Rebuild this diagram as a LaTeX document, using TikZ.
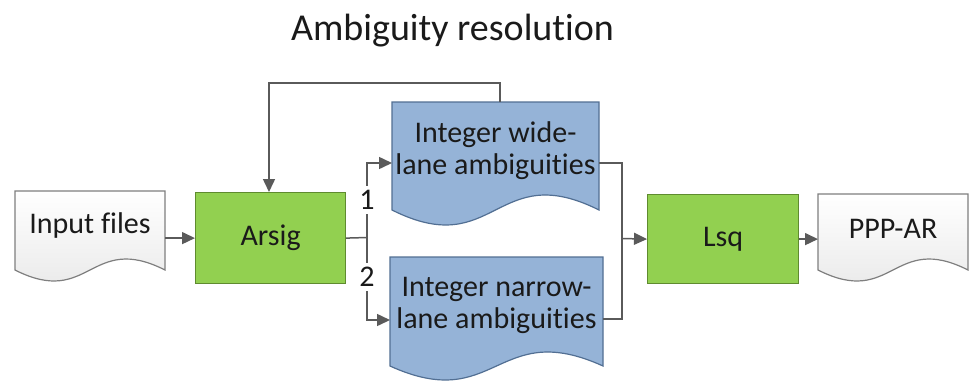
\documentclass[tikz,border=0pt]{standalone}
\usepackage{fontspec}
\setmainfont{Carlito}[Ligatures=NoCommon]
\usetikzlibrary{arrows.meta}
\definecolor{lnc}{HTML}{5A5A5A}
\definecolor{grnf}{HTML}{92D050}
\definecolor{grnd}{HTML}{5F8B2F}
\definecolor{bluf}{HTML}{95B3D7}
\definecolor{blud}{HTML}{526F93}
\definecolor{docd}{HTML}{7F7F7F}
\definecolor{txtc}{HTML}{1A1A1A}
\newcommand{\docpath}[6]{%
  \path[#6] (#1,#2) -- (#3,#2) -- (#3,#4)
    .. controls ({(#1+#3)/2},{#4-3.46*#5}) and ({(#1+#3)/2},{#4+3.46*#5}) .. (#1,#4) -- cycle;}
\begin{document}
\begin{tikzpicture}[x=1pt,y=-1pt,
  lbl/.style={font=\fontsize{30}{32}\selectfont, text=txtc},
  proc/.style={draw=grnd, line width=1.2pt, fill=grnf, anchor=north west, inner sep=0, lbl},
  area/.style={inner sep=0, anchor=north west},
  docst/.style={draw=docd, line width=1.2pt, top color=white, bottom color=black!10},
  bluest/.style={draw=blud, line width=1.2pt, fill=bluf},
  conn/.style={draw=lnc, line width=1.5pt},
  arr/.style={conn, -{Triangle[length=13pt,width=12pt]}},
  num/.style={lbl, fill=white, inner sep=4pt},
]
\useasboundingbox (0,0) rectangle (971,381);
\fill[white] (0,0) rectangle (971,381);

% title
\node[font=\fontsize{38}{40}\selectfont, text=txtc, anchor=base] (title) at (452.5,40) {Ambiguity resolution};

% document shapes
\docpath{15}{191}{165}{270}{11}{docst}
\docpath{392}{102}{599}{210}{15}{bluest}
\docpath{390}{257}{603}{366}{14}{bluest}
\docpath{818}{194}{968}{270}{11}{docst}

\node[area, minimum width=150pt, minimum height=79pt] (inp) at (15,191) {};
\node[area, minimum width=207pt, minimum height=108pt] (wide) at (392,102) {};
\node[area, minimum width=213pt, minimum height=109pt] (narrow) at (390,257) {};
\node[area, minimum width=150pt, minimum height=76pt] (ppp) at (818,194) {};

\node[lbl, anchor=base] (inpt) at (90,233) {Input files};
\node[lbl, align=center] (widet) at (495.5,150.5) {Integer wide-\\lane ambiguities};
\node[lbl, align=center] (narrowt) at (496.5,305.5) {Integer narrow-\\lane ambiguities};
\node[lbl, anchor=base] (pppt) at (893,238) {PPP-AR};

% process boxes
\node[proc, minimum width=150pt, minimum height=91pt] (arsig) at (195,192) {Arsig};
\node[proc, minimum width=151pt, minimum height=89pt] (lsq) at (647,194) {Lsq};

% connectors
\draw[arr] (inp.east |- arsig.west) -- (arsig.west);

\coordinate (j1) at (367,237.5);
\coordinate (wlin) at (392,163);
\coordinate (nlin) at (390,320);
\draw[conn] (arsig.east) -- (j1);
\draw[arr] (j1) |- (wlin);
\draw[arr] (j1) |- (nlin);

\coordinate (rc1) at (622,163);
\coordinate (rc2) at (622,319);
\coordinate (j2) at (622,238.5);
\draw[conn] (wide.east |- rc1) -- (rc1) -- (rc2) -- (narrow.east |- rc2);
\draw[arr] (j2) -- (lsq.west);

\draw[arr] (lsq.east) -- (ppp.west |- lsq.east);

\coordinate (fb1) at (500,83);
\coordinate (fb2) at (269,83);
\draw[arr] (wide.north -| fb1) -- (fb1) -- (fb2) -- (arsig.north -| fb2);

% branch numbers
\node[num] (n1) at (367,200) {1};
\node[num] (n2) at (367,277) {2};
\end{tikzpicture}
\end{document}
